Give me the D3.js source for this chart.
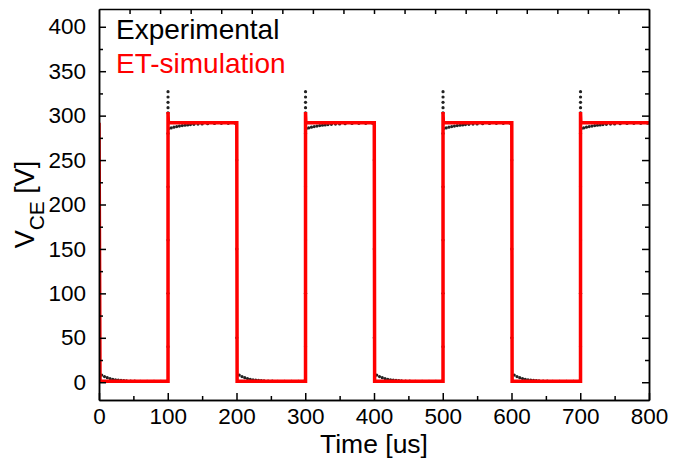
<!DOCTYPE html>
<html>
<head>
<meta charset="utf-8">
<script src="https://cdn.jsdelivr.net/npm/d3@7"></script>
<style>
  body { margin: 0; background: #fff; }
  svg text { font-family: "Liberation Sans", Arial, sans-serif; }
</style>
</head>
<body>
<svg id="chart" width="673" height="458"></svg>
<script>
// tick labels
var xTickLabels = [0, 100, 200, 300, 400, 500, 600, 700, 800];
var yTickLabels = [0, 50, 100, 150, 200, 250, 300, 350, 400];

// switching periods start here (us)
var periodStarts = [0, 200, 400, 600];

// experimental trace, read from one switching period (offset in us, V_CE in V)
var expLowT = [4, 8, 12, 16, 20, 24, 28, 32, 36, 40, 46, 52, 60, 70, 80, 90, 98];
var expLowV = [8.0, 6.4, 5.1, 4.1, 3.3, 2.7, 2.3, 2.0, 1.7, 1.5, 1.3, 1.2, 1.1, 1.0, 1.0, 1.0, 1.0];
var expRiseT = 100.4;
var expRiseV = [40, 100, 160, 220, 280, 303, 309, 315, 321, 327];
var expHighT = [101.5, 105, 109, 113, 117, 121, 125, 129, 133, 138, 144, 150, 158, 168, 178, 188, 198];
var expHighV = [285.5, 286.2, 287, 287.7, 288.3, 288.8, 289.2, 289.6, 289.9, 290.2, 290.5, 290.7, 291.0, 291.2, 291.3, 291.4, 291.5];
var expFallT = 200.4;
var expFallV = [250, 150, 50];

// ET-simulation trace
var simT = [0, 1.5, 100.4, 100.4, 100.9, 200.4, 200.9, 300.4, 300.4, 300.9, 400.4, 400.9,
            500.4, 500.4, 500.9, 600.4, 600.9, 700.4, 700.4, 700.9, 800];
var simV = [292, 1, 1, 304, 292, 292, 1, 1, 304, 292, 292, 1,
            1, 304, 292, 292, 1, 1, 304, 292, 292];

var plotLeft = 99, plotRight = 649, plotTop = 9, plotBottom = 400;

var svg = d3.select('#chart');

var x = d3.scaleLinear().domain([0, 800]).range([plotLeft, plotRight]);
var y = d3.scaleLinear().domain([-20, 420]).range([plotBottom, plotTop]);

svg.append('defs').append('clipPath').attr('id', 'plot')
    .append('rect')
    .attr('x', plotLeft).attr('y', plotTop)
    .attr('width', plotRight - plotLeft).attr('height', plotBottom - plotTop);

// collect experimental points per period
var expPts = [];
periodStarts.forEach(function(p) {
    expLowT.forEach(function(t, i) { expPts.push([p + t, expLowV[i]]); });
    if (p + expRiseT < 800)
        expRiseV.forEach(function(v) { expPts.push([p + expRiseT, v]); });
    expHighT.forEach(function(t, i) {
        if (p + t <= 800) expPts.push([p + t, expHighV[i]]);
    });
    if (p + expFallT < 800)
        expFallV.forEach(function(v) { expPts.push([p + expFallT, v]); });
});

var plot = svg.append('g').attr('clip-path', 'url(#plot)');

plot.selectAll('circle.exp')
    .data(expPts)
    .enter()
    .append('circle')
    .attr('class', 'exp')
    .attr('cx', function(d) { return x(d[0]); })
    .attr('cy', function(d) { return y(d[1]); })
    .attr('r', 1.6)
    .attr('fill', '#222');

var simLine = d3.line()
    .x(function(d, i) { return x(simT[i]); })
    .y(function(d) { return y(d); });

plot.append('path')
    .datum(simV)
    .attr('d', simLine)
    .attr('fill', 'none')
    .attr('stroke', '#ff0000')
    .attr('stroke-width', 3.5)
    .attr('stroke-linejoin', 'miter');

// axes, ticks point inward
function styleAxis(g) {
    g.select('.domain').attr('stroke', '#000').attr('stroke-width', 1.5);
    g.selectAll('.tick line').attr('stroke', '#000').attr('stroke-width', 1.5);
    g.selectAll('.tick text').attr('fill', '#000').attr('font-size', 22.5)
        .attr('font-family', '"Liberation Sans", Arial, sans-serif');
}

var xMinor = d3.range(50, 800, 100);
var yMinor = d3.range(25, 400, 50);
var topTicks = d3.range(1, 18).map(function(i) { return i * 800 / 18; });

svg.append('g')
    .attr('transform', 'translate(0,' + plotBottom + ')')
    .call(d3.axisBottom(x).tickValues(xMinor).tickSizeInner(-4).tickSizeOuter(0).tickFormat(''))
    .call(styleAxis);

svg.append('g')
    .attr('transform', 'translate(0,' + plotBottom + ')')
    .call(d3.axisBottom(x).tickValues(xTickLabels).tickSizeInner(-7).tickSizeOuter(0).tickPadding(8))
    .call(styleAxis);

svg.append('g')
    .attr('transform', 'translate(0,' + plotTop + ')')
    .call(d3.axisTop(x).tickValues(topTicks).tickSizeInner(-5).tickSizeOuter(0).tickFormat(''))
    .call(styleAxis);

svg.append('g')
    .attr('transform', 'translate(' + plotLeft + ',0)')
    .call(d3.axisLeft(y).tickValues(yMinor).tickSizeInner(-4).tickSizeOuter(0).tickFormat(''))
    .call(styleAxis);

svg.append('g')
    .attr('transform', 'translate(' + plotLeft + ',0)')
    .call(d3.axisLeft(y).tickValues(yTickLabels).tickSizeInner(-7).tickSizeOuter(0).tickPadding(13))
    .call(styleAxis);

svg.append('g')
    .attr('transform', 'translate(' + plotRight + ',0)')
    .call(d3.axisRight(y).tickValues(yMinor).tickSizeInner(-4).tickSizeOuter(0).tickFormat(''))
    .call(styleAxis);

svg.append('g')
    .attr('transform', 'translate(' + plotRight + ',0)')
    .call(d3.axisRight(y).tickValues(yTickLabels).tickSizeInner(-7).tickSizeOuter(0).tickFormat(''))
    .call(styleAxis);

// axis titles
svg.append('text')
    .attr('x', (plotLeft + plotRight) / 2)
    .attr('y', 452.5)
    .attr('text-anchor', 'middle')
    .attr('font-size', 26.5)
    .attr('fill', '#000')
    .text('Time [us]');

var yl = svg.append('text')
    .attr('transform', 'translate(34,' + ((plotTop + plotBottom) / 2) + ') rotate(-90)')
    .attr('text-anchor', 'middle')
    .attr('font-size', 27)
    .attr('fill', '#000');
yl.append('tspan').text('V');
yl.append('tspan').attr('font-size', 21).attr('dy', 10).text('CE');
yl.append('tspan').attr('dy', -10).text(' [V]');

// legend
svg.append('text')
    .attr('x', 116).attr('y', 39)
    .attr('font-size', 28)
    .attr('fill', '#000')
    .text('Experimental');

svg.append('text')
    .attr('x', 116).attr('y', 73)
    .attr('font-size', 28)
    .attr('fill', '#ff0000')
    .text('ET-simulation');
</script>
</body>
</html>
